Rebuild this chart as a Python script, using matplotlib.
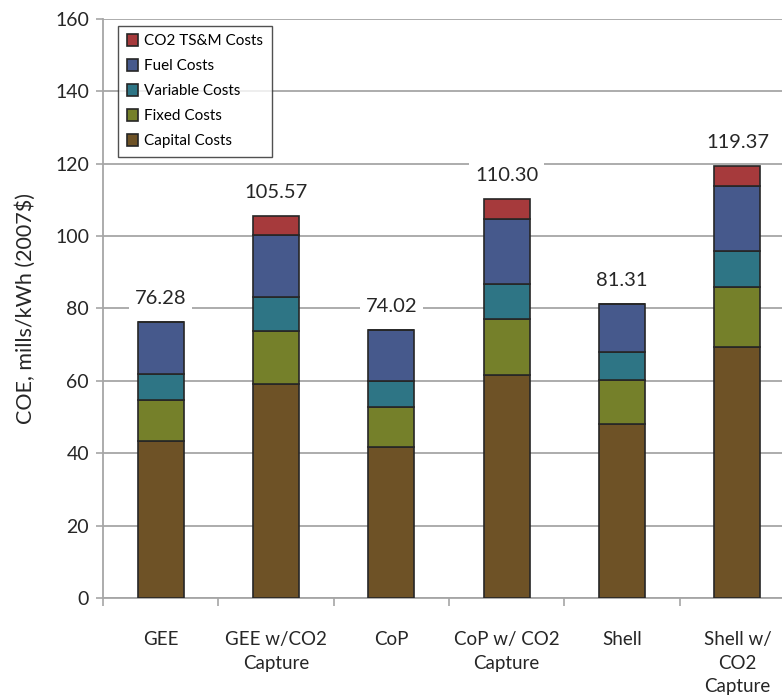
import numpy as np
import matplotlib.pyplot as plt
from matplotlib.ticker import FixedLocator, NullFormatter

plt.rcParams['font.family'] = ['Lato', 'DejaVu Sans']

categories = ["GEE", "GEE w/CO2\nCapture", "CoP", "CoP w/ CO2\nCapture", "Shell", "Shell w/\nCO2\nCapture"]
totals = [76.28, 105.57, 74.02, 110.30, 81.31, 119.37]

capital = [43.4, 59.1, 41.8, 61.5, 48.2, 69.3]
fixed = [11.3, 14.7, 11.0, 15.5, 12.0, 16.7]
variable = [7.2, 9.4, 7.2, 9.7, 7.8, 9.9]
fuel = [14.4, 17.1, 14.0, 18.0, 13.3, 17.9]
co2 = [0.0, 5.27, 0.0, 5.6, 0.0, 5.57]

series = [("Capital Costs", capital, "#6e5226"),
          ("Fixed Costs", fixed, "#75802a"),
          ("Variable Costs", variable, "#2e7585"),
          ("Fuel Costs", fuel, "#46598c"),
          ("CO2 TS&M Costs", co2, "#a63a3c")]

fig = plt.figure(figsize=(7.82, 6.98), dpi=100)
ax = fig.add_axes([0.1317, 0.1433, 0.885, 0.8295])

x = np.arange(len(categories))
bottom = np.zeros(len(categories))
handles = []
for name, vals, col in series:
    vals = np.array(vals)
    b = ax.bar(x, vals, 0.4, bottom=bottom, color=col, edgecolor="#262626",
               linewidth=1.2, label=name, zorder=3)
    handles.append(b)
    bottom += vals

# total on top of each stack, white box hides the gridline behind it
for xi, t in zip(x, totals):
    ax.annotate("%.2f" % t, (xi, t), xytext=(0, 17), textcoords="offset points",
                ha="center", va="center", fontsize=14.5, color="#262626", zorder=4,
                bbox=dict(facecolor="white", edgecolor="none", pad=4))

ax.set_xlim(-0.5, len(categories) - 0.5)
ax.set_ylim(0, 160)
ax.set_yticks(np.arange(0, 161, 20))
ax.tick_params(axis="y", labelsize=14, colors="#a6a6a6", labelcolor="#262626",
               length=5, width=1.2, pad=5)
ax.yaxis.grid(True, color="#a6a6a6", linewidth=1.3, zorder=0)
ax.set_axisbelow(True)

ax.xaxis.set_major_locator(FixedLocator(np.arange(-0.5, len(categories), 1)))
ax.xaxis.set_major_formatter(NullFormatter())
ax.xaxis.set_minor_locator(FixedLocator(x))
ax.set_xticklabels(categories, minor=True, fontsize=13.5, color="#262626",
                   linespacing=1.45, va="top")
ax.tick_params(axis="x", which="major", length=6, width=1.2, colors="#a6a6a6")
ax.tick_params(axis="x", which="minor", length=0, pad=24)

for s in ["top", "right"]:
    ax.spines[s].set_visible(False)
for s in ["left", "bottom"]:
    ax.spines[s].set_color("#a6a6a6")
    ax.spines[s].set_linewidth(1.3)

ax.set_ylabel("COE, mills/kWh (2007$)", fontsize=15.5, color="#262626", labelpad=14)

leg = ax.legend(handles[::-1], [s[0] for s in series][::-1], loc="upper left",
                bbox_to_anchor=(0.022, 0.988), fontsize=11, frameon=True,
                fancybox=False, edgecolor="#262626", handlelength=0.75,
                handleheight=0.75, handletextpad=0.4, labelspacing=0.72,
                borderpad=0.55, borderaxespad=0)
leg.get_frame().set_linewidth(1.0)
leg.set_zorder(5)

fig.savefig("out.png", dpi=100)
